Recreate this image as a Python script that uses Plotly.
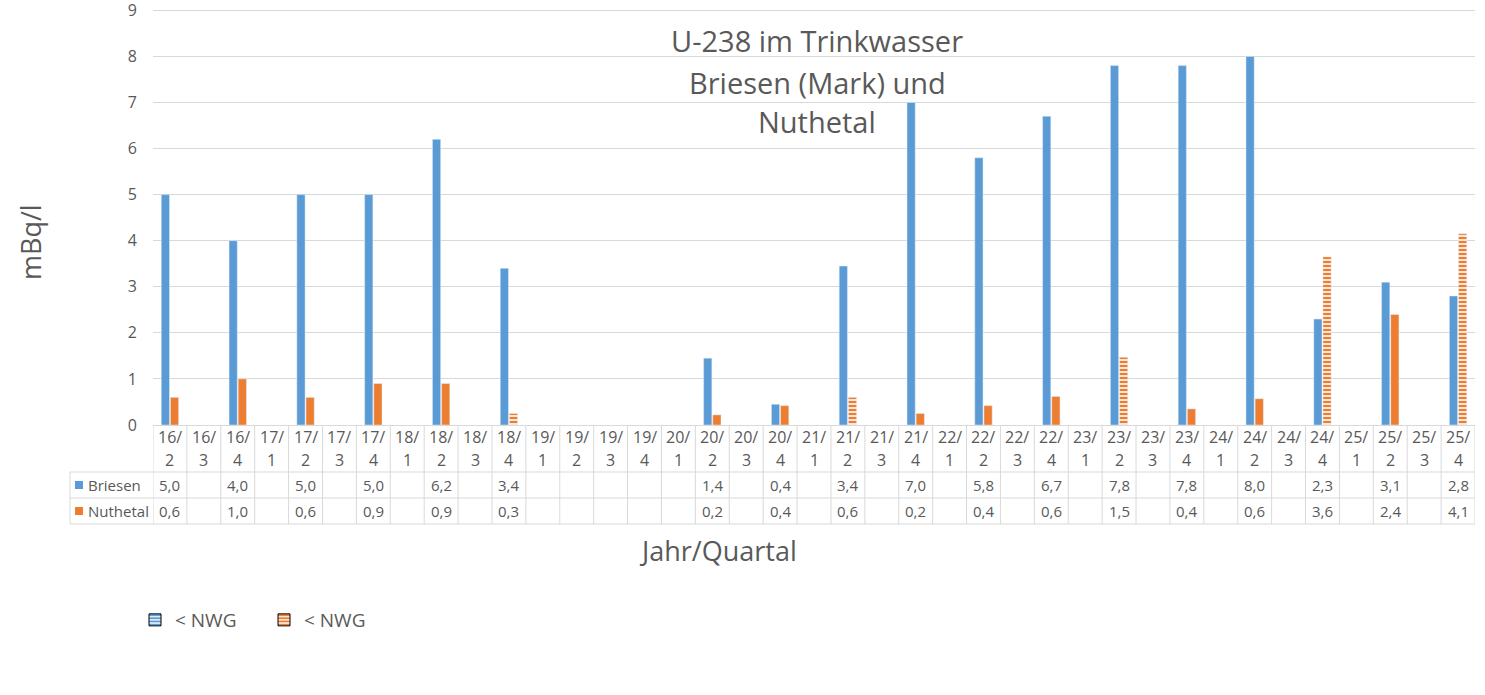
import plotly.graph_objects as go

categories = ["16/2", "16/3", "16/4", "17/1", "17/2", "17/3", "17/4", "18/1", "18/2", "18/3",
              "18/4", "19/1", "19/2", "19/3", "19/4", "20/1", "20/2", "20/3", "20/4", "21/1",
              "21/2", "21/3", "21/4", "22/1", "22/2", "22/3", "22/4", "23/1", "23/2", "23/3",
              "23/4", "24/1", "24/2", "24/3", "24/4", "25/1", "25/2", "25/3", "25/4"]

briesen = [5.0, None, 4.0, None, 5.0, None, 5.0, None, 6.2, None,
           3.4, None, None, None, None, None, 1.45, None, 0.45, None,
           3.45, None, 7.0, None, 5.8, None, 6.7, None, 7.8, None,
           7.8, None, 8.0, None, 2.3, None, 3.1, None, 2.8]

nuthetal = [0.6, None, 1.0, None, 0.6, None, 0.9, None, 0.9, None,
            0.25, None, None, None, None, None, 0.22, None, 0.42, None,
            0.6, None, 0.25, None, 0.42, None, 0.62, None, 1.47, None,
            0.35, None, 0.57, None, 3.65, None, 2.4, None, 4.15]

# True where the Nuthetal value is below the detection limit (< NWG)
nuthetal_below_nwg = [False, False, False, False, False, False, False, False, False, False,
                      True, False, False, False, False, False, False, False, False, False,
                      True, False, False, False, False, False, False, False, True, False,
                      False, False, False, False, True, False, False, False, True]

briesen_table = ["5,0", "", "4,0", "", "5,0", "", "5,0", "", "6,2", "",
                 "3,4", "", "", "", "", "", "1,4", "", "0,4", "",
                 "3,4", "", "7,0", "", "5,8", "", "6,7", "", "7,8", "",
                 "7,8", "", "8,0", "", "2,3", "", "3,1", "", "2,8"]
nuthetal_table = ["0,6", "", "1,0", "", "0,6", "", "0,9", "", "0,9", "",
                  "0,3", "", "", "", "", "", "0,2", "", "0,4", "",
                  "0,6", "", "0,2", "", "0,4", "", "0,6", "", "1,5", "",
                  "0,4", "", "0,6", "", "3,6", "", "2,4", "", "4,1"]

title_lines = ["U-238 im Trinkwasser", "Briesen (Mark) und", "Nuthetal"]
y_title = "mBq/l"
x_title = "Jahr/Quartal"
series_names = ["Briesen", "Nuthetal"]
legend_label = "< NWG"
y_ticks = [0, 1, 2, 3, 4, 5, 6, 7, 8, 9]

BLUE = "#5b9bd5"
ORANGE = "#ed7d31"
TXT = "#595959"
GRID = "#d9d9d9"
FONT = "Open Sans"

W, H = 1485, 695
L, R, T, B = 153, 1475, 8, 425


def xp(px):
    return (px - L) / (R - L)


def yp(py):
    return (B - py) / (B - T)


def pat(shape, col):
    return dict(shape=shape, fgcolor=col, bgcolor="white", fgopacity=1,
                size=4, solidity=0.6)


fig = go.Figure()

fig.add_trace(go.Bar(
    x=categories, y=briesen, name=series_names[0], marker_color=BLUE,
    offsetgroup="b", showlegend=False,
))
fig.add_trace(go.Bar(
    x=categories, y=nuthetal, name=series_names[1], marker_color=ORANGE,
    marker_pattern=pat(["-" if f else "" for f in nuthetal_below_nwg], ORANGE),
    offsetgroup="n", showlegend=False,
))
# legend-only entries
fig.add_trace(go.Bar(
    x=[categories[0]], y=[None], name=legend_label, marker_color=BLUE,
    marker_pattern=pat("-", BLUE),
    marker_line=dict(color="black", width=1), offsetgroup="b", showlegend=True,
))
fig.add_trace(go.Bar(
    x=[categories[0]], y=[None], name=legend_label, marker_color=ORANGE,
    marker_pattern=pat("-", ORANGE),
    marker_line=dict(color="black", width=1), offsetgroup="n", showlegend=True,
))

n = len(categories)
shapes = []
annotations = []

row_hdr_bot = 472
row1_bot = 498
row2_bot = 524
key_left = 70

line = dict(color=GRID, width=1)
for i in range(n + 1):
    shapes.append(dict(type="line", xref="x", yref="paper", x0=i - 0.5, x1=i - 0.5,
                       y0=yp(B), y1=yp(row2_bot), line=line))
for py in (row_hdr_bot, row1_bot, row2_bot):
    shapes.append(dict(type="line", xref="paper", yref="paper", x0=xp(key_left), x1=1,
                       y0=yp(py), y1=yp(py), line=line))
shapes.append(dict(type="line", xref="paper", yref="paper", x0=xp(key_left), x1=xp(key_left),
                   y0=yp(row_hdr_bot), y1=yp(row2_bot), line=line))

for i, c in enumerate(categories):
    yr, q = c.split("/")
    annotations.append(dict(x=i, y=yp(437), xref="x", yref="paper", text=yr + "/",
                            showarrow=False, font=dict(size=16, color=TXT, family=FONT),
                            xanchor="center", yanchor="middle"))
    annotations.append(dict(x=i, y=yp(460), xref="x", yref="paper", text=q,
                            showarrow=False, font=dict(size=16, color=TXT, family=FONT),
                            xanchor="center", yanchor="middle"))
    for txt, py in ((briesen_table[i], 485), (nuthetal_table[i], 511)):
        if txt:
            annotations.append(dict(x=i, y=yp(py), xref="x", yref="paper", text=txt,
                                    showarrow=False, font=dict(size=15, color=TXT, family=FONT),
                                    xanchor="center", yanchor="middle"))

for name, col, py in ((series_names[0], BLUE, 485), (series_names[1], ORANGE, 511)):
    shapes.append(dict(type="rect", xref="paper", yref="paper", x0=xp(75), x1=xp(83),
                       y0=yp(py - 4), y1=yp(py + 4), fillcolor=col, line=dict(width=0)))
    annotations.append(dict(x=xp(86), y=yp(py), xref="paper", yref="paper", text=name,
                            showarrow=False, font=dict(size=15, color=TXT, family=FONT),
                            xanchor="left", yanchor="middle"))

for txt, py in zip(title_lines, (41, 82, 122)):
    annotations.append(dict(x=xp(817), y=yp(py), xref="paper", yref="paper", text=txt,
                            showarrow=False, font=dict(size=29, color=TXT, family=FONT),
                            xanchor="center", yanchor="middle"))

annotations.append(dict(x=xp(30), y=yp(242), xref="paper", yref="paper", text=y_title,
                        textangle=-90, showarrow=False,
                        font=dict(size=27, color=TXT, family=FONT),
                        xanchor="center", yanchor="middle"))
annotations.append(dict(x=xp(718), y=yp(550), xref="paper", yref="paper", text=x_title,
                        showarrow=False, font=dict(size=27, color=TXT, family=FONT),
                        xanchor="center", yanchor="middle"))

fig.update_layout(
    width=W, height=H,
    margin=dict(l=L, r=W - R, t=T, b=H - B, autoexpand=False),
    paper_bgcolor="white", plot_bgcolor="white",
    barmode="group", bargap=0.46, bargroupgap=0.1,
    font=dict(family=FONT, color=TXT),
    shapes=shapes, annotations=annotations,
    legend=dict(orientation="h", x=xp(135), y=yp(620), xanchor="left", yanchor="middle",
                font=dict(size=19, color=TXT, family=FONT), entrywidth=84,
                entrywidthmode="pixels", itemwidth=30, bgcolor="rgba(0,0,0,0)"),
    xaxis=dict(type="category", range=[-0.5, n - 0.5], showticklabels=False,
               showgrid=False, zeroline=False, showline=True, linecolor=GRID, ticks=""),
    yaxis=dict(range=[0, 9.05], tickmode="array", tickvals=y_ticks,
               showgrid=True, gridcolor=GRID, zeroline=False, ticklabeloverflow="allow",
               showline=False, ticks="outside", ticklen=12, tickcolor="rgba(0,0,0,0)",
               tickfont=dict(size=16, color=TXT, family=FONT)),
)

fig.write_html("out.html")
